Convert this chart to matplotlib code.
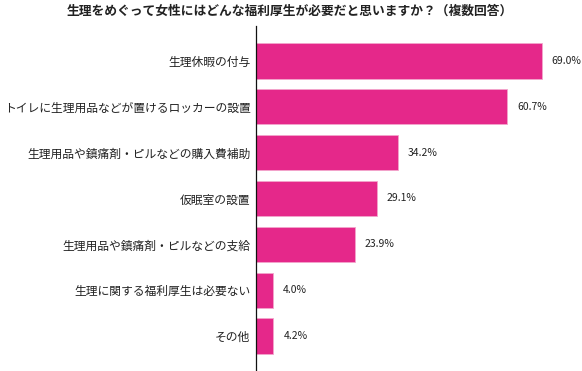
import matplotlib
matplotlib.use('Agg')
import matplotlib.pyplot as plt

plt.rcParams['font.family'] = ['Noto Sans CJK JP', 'DejaVu Sans']

# データ
title = '生理をめぐって女性にはどんな福利厚生が必要だと思いますか？（複数回答）'
labels = [
    '生理休暇の付与',
    'トイレに生理用品などが置けるロッカーの設置',
    '生理用品や鎮痛剤・ピルなどの購入費補助',
    '仮眠室の設置',
    '生理用品や鎮痛剤・ピルなどの支給',
    '生理に関する福利厚生は必要ない',
    'その他',
]
values = [69.0, 60.7, 34.2, 29.1, 23.9, 4.0, 4.2]

bar_color = '#E5288A'

fig = plt.figure(figsize=(5.82, 3.71), dpi=100)
W, H = 582, 371
ax = fig.add_axes([256 / W, 0, 323 / W, 345 / H])

pos = list(range(len(values)))
ax.barh(pos, values, height=0.77, color=bar_color, edgecolor='#F3A5CC', linewidth=0.6)
ax.set_ylim(len(values) - 1 + 0.76, -0.76)
ax.set_xlim(0, 78)

for y, v in zip(pos, values):
    ax.text(v + 2.4, y, f'{v:.1f}%', va='center', ha='left', fontsize=7.5, color='#222222')

ax.set_yticks(pos)
ax.set_yticklabels(labels, fontsize=8.5, color='#222222')
ax.tick_params(axis='y', length=0, pad=4)
ax.set_xticks([])
for s in ['top', 'right', 'bottom']:
    ax.spines[s].set_visible(False)
ax.spines['left'].set_linewidth(0.9)
ax.spines['left'].set_color('#111111')

fig.text(290 / W, 1 - 11 / H, title, ha='center', va='center', fontsize=9.2,
         fontweight='bold', color='#222222')

fig.savefig('out.png', dpi=100)
